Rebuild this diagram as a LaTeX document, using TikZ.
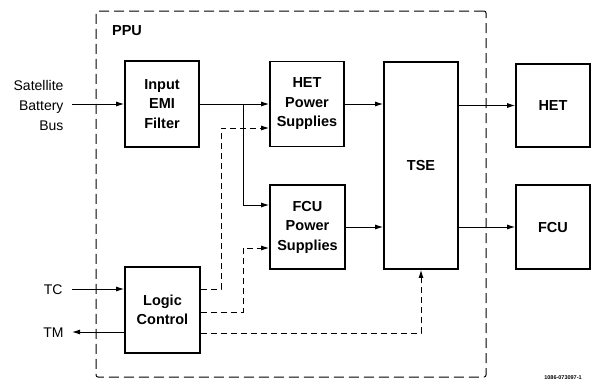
\documentclass[tikz,border=0pt]{standalone}
\usepackage{fontspec}
\setmainfont{Liberation Sans}
\usetikzlibrary{arrows.meta}
\begin{document}
\begin{tikzpicture}[x=1pt,y=-1pt,
  blk/.style={draw, line width=1.6pt, align=center, font=\fontsize{14.5}{19.5}\selectfont\bfseries, inner sep=0pt},
  ext/.style={align=right, font=\fontsize{14}{20}\selectfont},
  sig/.style={line width=1pt, -{Latex[length=8pt,width=5pt]}},
  ctl/.style={sig, dash pattern=on 6pt off 4pt},
  ppubox/.style={draw, line width=1pt, dash pattern=on 10pt off 5pt, rounded corners=2pt, inner sep=0pt}]
\useasboundingbox (0,0) rectangle (596,384);
\node[ppubox, minimum width=390pt, minimum height=366pt] (ppu) at (291,194) {};
\node[font=\fontsize{14.5}{17}\selectfont\bfseries] (ppulbl) at (127,31) {PPU};
\node[blk, minimum width=74pt, minimum height=86pt] (emi) at (162,104) {Input\\EMI\\Filter};
\node[blk, minimum width=74pt, minimum height=85pt] (hetps) at (307,104) {HET\\Power\\Supplies};
\node[blk, minimum width=75pt, minimum height=84pt] (fcups) at (307.5,227) {FCU\\Power\\Supplies};
\node[blk, minimum width=74pt, minimum height=207pt] (tse) at (421,165.5) {TSE};
\node[blk, minimum width=74pt, minimum height=83pt] (het) at (553,105.5) {HET};
\node[blk, minimum width=74pt, minimum height=84pt] (fcu) at (553,227) {FCU};
\node[blk, minimum width=75pt, minimum height=86pt] (logic) at (162.5,310) {Logic\\Control};
\coordinate (sbb) at (72,104);
\coordinate (tc) at (72,289);
\coordinate (tm) at (72,332);
\coordinate (split) at (243,104);
\node[ext, anchor=east] (sbblbl) at (67,105) {Satellite\\Battery\\Bus};
\node[ext, anchor=east] (tclbl) at (66,290) {TC};
\node[ext, anchor=east] (tmlbl) at (67,333) {TM};
\node[font=\fontsize{5.5}{6}\selectfont\bfseries] (fignum) at (563,378) {1086-073097-1};
\draw[sig] (sbb) -- (emi.west |- sbb);
\draw[sig] (emi) -- (hetps);
\draw[sig] (split) |- ([yshift=22pt]fcups.west);
\draw[sig] (hetps.east) -- (hetps.east -| tse.west);
\draw[sig] (fcups.east) -- (fcups.east -| tse.west);
\draw[sig] (tse.east |- het.west) -- (het.west);
\draw[sig] (tse.east |- fcu.west) -- (fcu.west);
\draw[sig] (tc) -- ([yshift=21pt]logic.west);
\draw[sig] ([yshift=-22pt]logic.west) -- (tm);
\draw[ctl] ([yshift=21pt]logic.east) -| (221,128) -- ([yshift=-24pt]hetps.west);
\draw[ctl] ([yshift=-2pt]logic.east) -| (243,248) -- ([yshift=-21pt]fcups.west);
\draw[ctl] ([yshift=-23pt]logic.east) -| (tse.south);
\end{tikzpicture}
\end{document}
